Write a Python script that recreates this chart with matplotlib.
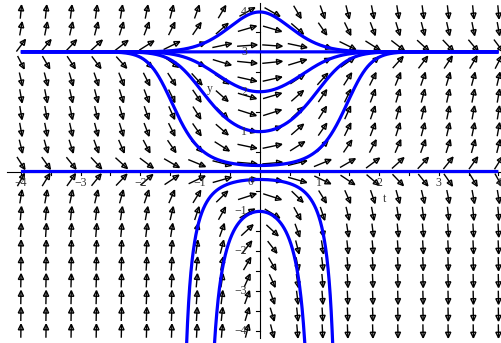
import numpy as np
import matplotlib.pyplot as plt
from matplotlib.patches import Polygon

plt.rcParams['font.family'] = 'Liberation Serif'


# dy/dt = t * y * (3 - y)
def rate(t, y):
    return t * y * (3 - y)


# starting values y(0) of the drawn solution curves
y0_values = [4, 3, 2, 1, 0.15, 0, -0.2, -1]

# tick labels along the axes
t_labels = [-4, -3, -2, -1, 1, 2, 3, 4]
y_labels = [-4, -3, -2, -1, 1, 2, 3, 4]

# direction field grid
n_arrows = 20
t_grid = np.linspace(-4, 4, n_arrows)
y_grid = np.linspace(-4, 4, n_arrows)

xmin, xmax = -4.35, 4.06
ymin, ymax = -4.3, 4.3
W, H = 502, 343
sx = W / (xmax - xmin)   # pixels per unit of t
sy = H / (ymax - ymin)   # pixels per unit of y


def solve(y0, t_end, h=0.002):
    t, y = 0.0, float(y0)
    ts, ys = [t], [y]
    step = h if t_end > 0 else -h
    for _ in range(int(abs(t_end) / h)):
        k1 = rate(t, y)
        k2 = rate(t + step / 2, y + step * k1 / 2)
        k3 = rate(t + step / 2, y + step * k2 / 2)
        k4 = rate(t + step, y + step * k3)
        y += step * (k1 + 2 * k2 + 2 * k3 + k4) / 6
        t += step
        ts.append(t)
        ys.append(y)
        if abs(y) > 6:
            break
    return ts, ys


fig = plt.figure(figsize=(W / 100, H / 100), dpi=100)
ax = fig.add_axes([0, 0, 1, 1])
ax.set_xlim(xmin, xmax)
ax.set_ylim(ymin, ymax)
ax.axis('off')

# arrows: unit direction in grid units, hollow head, shaft through to the tip
spacing = t_grid[1] - t_grid[0]
arrow_len = 0.8 * spacing
head_len, head_half = 5.5, 2.6   # pixels
for tc in t_grid:
    for yc in y_grid:
        f = rate(tc, yc)
        n = np.hypot(1.0, f)
        dx, dy = arrow_len / n, arrow_len * f / n
        x0, y0 = tc - dx / 2, yc - dy / 2
        x1, y1 = tc + dx / 2, yc + dy / 2
        ax.plot([x0, x1], [y0, y1], color='black', lw=1.0, zorder=2,
                solid_capstyle='butt')
        # head built in pixel space so it keeps its shape
        px, py = dx * sx, dy * sy
        L = np.hypot(px, py)
        ux, uy = px / L, py / L
        bx, by = x1 - head_len * ux / sx, y1 - head_len * uy / sy
        tri = [(x1, y1),
               (bx - head_half * uy / sx, by + head_half * ux / sy),
               (bx + head_half * uy / sx, by - head_half * ux / sy)]
        ax.add_patch(Polygon(tri, closed=True, facecolor='none',
                             edgecolor='black', lw=1.0, zorder=2))

# axes lines
ax.plot([-4.23, xmax], [0, 0], color='black', lw=0.8, zorder=3)
ax.plot([0, 0], [-4.17, 4.22], color='black', lw=0.8, zorder=3)

# ticks every 0.5
for v in np.arange(-4, 4.01, 0.5):
    ax.plot([v, v], [0, -3 / sy], color='black', lw=0.8, zorder=3)
    ax.plot([0, -4 / sx], [v, v], color='black', lw=0.8, zorder=3)

lab_color = '#333333'
fs = 8.5
for v in t_labels:
    ax.text(v, -0.29, f'{v}'.replace('-', '\u2212'), ha='center', va='center',
            fontsize=fs, color=lab_color, zorder=4)
ax.text(-0.15, -0.27, '0', ha='center', va='center', fontsize=fs,
        color=lab_color, zorder=4)
for v in y_labels:
    ax.text(-0.21, v, f'{v}'.replace('-', '\u2212'), ha='right', va='center',
            fontsize=fs, color=lab_color, zorder=4)
ax.text(-0.83, 2.07, 'y', ha='center', va='center', fontsize=fs,
        color=lab_color, zorder=4)
ax.text(2.085, -0.69, 't', ha='center', va='center', fontsize=fs,
        color=lab_color, zorder=4)

# solution curves
for y0 in y0_values:
    tb, yb = solve(y0, -4)
    tf, yf = solve(y0, 4)
    ts = tb[::-1] + tf[1:]
    ys = yb[::-1] + yf[1:]
    ax.plot(ts, ys, color='#0000ff', lw=2.3, zorder=3.5,
            solid_capstyle='butt')

fig.savefig('out.png', dpi=100)
